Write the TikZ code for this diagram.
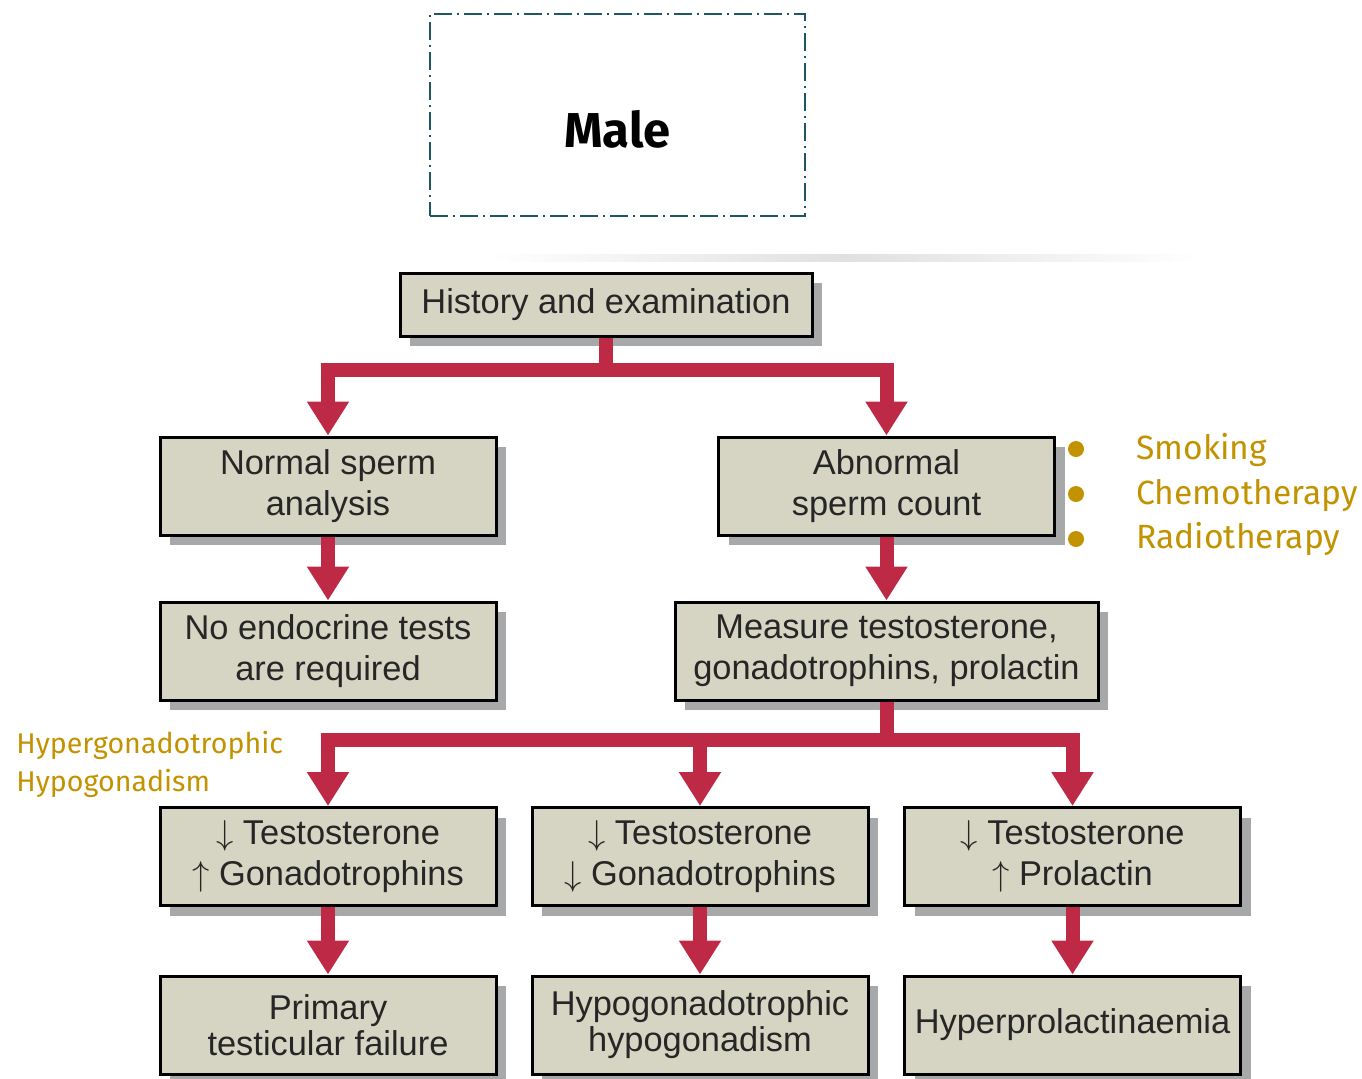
\documentclass[tikz,border=0pt]{standalone}
\usepackage{fontspec}
\setmainfont{Liberation Sans}
\newfontfamily\fira{Fira Sans}
\usetikzlibrary{arrows.meta,shadows}

\definecolor{boxfill}{HTML}{D6D5C3}
\definecolor{shadowgray}{HTML}{A7A8AA}
\definecolor{flowred}{HTML}{BE2A45}
\definecolor{gold}{HTML}{C39200}
\definecolor{teal}{HTML}{1D5766}
\definecolor{textgray}{HTML}{262626}

\tikzset{>={Triangle[length=17pt,width=20pt]}}
\tikzset{
  box/.style={draw=black, line width=1.5pt, fill=boxfill, text=textgray,
    align=center, minimum width=168pt, minimum height=49pt, inner sep=0pt,
    font=\fontsize{17.2}{20.5}\selectfont,
    drop shadow={shadow xshift=5pt, shadow yshift=-5pt, fill=shadowgray, opacity=1}},
  flow/.style={draw=flowred, line width=7pt},
  bullet/.style={circle, fill=gold, minimum size=8pt, inner sep=0pt},
  note/.style={text=gold, font=\fira\fontsize{16.8}{20}\selectfont, anchor=base west, inner sep=0pt}
}

\begin{document}
\begin{tikzpicture}[x=0.5pt,y=-0.5pt]
\useasboundingbox (0,0) rectangle (1362,1078);

% Title
\node[draw=teal, line width=1pt, dash pattern=on 9pt off 2.5pt on 1pt off 2.5pt,
  minimum width=187.5pt, minimum height=101pt] (male) at (617.5,115) {};
\node[font=\fira\bfseries\fontsize{24.5}{28}\selectfont] (maletext) at ([yshift=-7pt]male.center) {Male};
\shade[left color=white, right color=white, middle color=black!12] (490,254) rectangle (1200,261);

% First row
\node[box, minimum width=206pt, minimum height=31.5pt] (hist) at (606,304.5) {History and examination};

% Second row
\node[box] (normal) at (328,486) {Normal sperm\\analysis};
\node[box] (abn) at (886.5,486) {Abnormal\\sperm count};

% Third row
\node[box] (noend) at (328,651) {No endocrine tests\\are required};
\node[box, minimum width=211.5pt] (meas) at (886.5,651) {Measure testosterone,\\gonadotrophins, prolactin};

% Fourth row
\node[box] (lowhigh) at (328,856.5) {$\downarrow$ Testosterone\\$\uparrow$ Gonadotrophins};
\node[box] (lowlow) at (700,856.5) {$\downarrow$ Testosterone\\$\downarrow$ Gonadotrophins};
\node[box] (lowprl) at (1072.5,856.5) {$\downarrow$ Testosterone\\$\uparrow$ Prolactin};

% Fifth row
\node[box, font=\fontsize{17.2}{18}\selectfont] (primary) at (328,1025) {Primary\\testicular failure};
\node[box, font=\fontsize{17.2}{18}\selectfont] (hypohypo) at (700,1025) {Hypogonadotrophic\\hypogonadism};
\node[box] (hyperprl) at (1072.5,1025) {Hyperprolactinaemia};

% Connectors
\coordinate (split1) at (606,370);
\coordinate (split2) at (886.5,740);
\draw[flow] (hist.south) -- (split1);
\draw[flow,->] (split1) -| (normal.north);
\draw[flow,->] (split1) -| (abn.north);
\draw[flow,->] (normal.south) -- (noend.north);
\draw[flow,->] (abn.south) -- (meas.north);
\draw[flow] (meas.south) -- (split2);
\draw[flow,->] (split2) -| (lowhigh.north);
\draw[flow,->] (split2) -| (lowlow.north);
\draw[flow,->] (split2) -| (lowprl.north);
\draw[flow,->] (lowhigh.south) -- (primary.north);
\draw[flow,->] (lowlow.south) -- (hypohypo.north);
\draw[flow,->] (lowprl.south) -- (hyperprl.north);

% Risk factors
\node[bullet] (dot1) at (1076,449) {};
\node[bullet] (dot2) at (1076,494) {};
\node[bullet] (dot3) at (1076,539) {};
\node[note] (smoking) at (1136,459) {Smoking};
\node[note] (chemo) at (1136,504) {Chemotherapy};
\node[note] (radio) at (1136,548) {Radiotherapy};

% Side label
\node[note, font=\fira\fontsize{14.3}{19}\selectfont] (hyper1) at (16,753) {Hypergonadotrophic};
\node[note, font=\fira\fontsize{14.3}{19}\selectfont] (hyper2) at (16,791) {Hypogonadism};

\end{tikzpicture}
\end{document}
